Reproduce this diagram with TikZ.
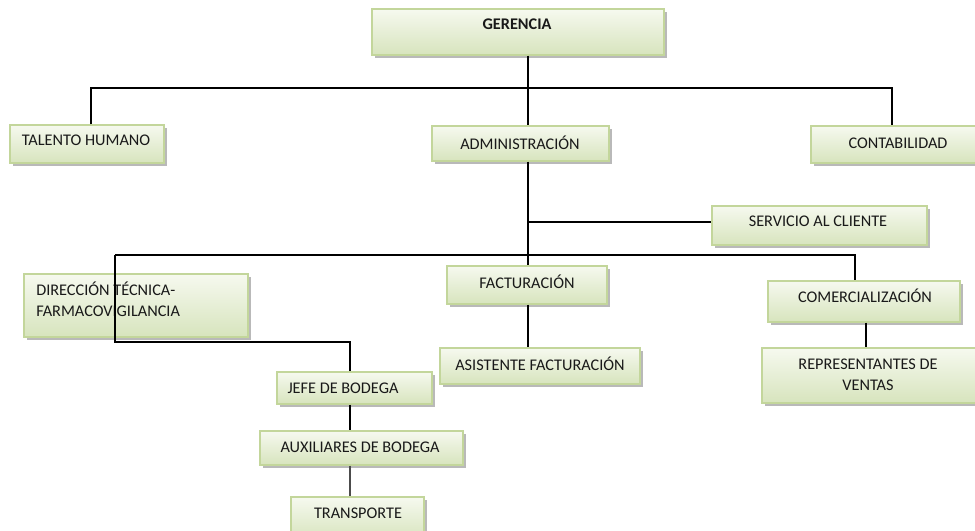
\documentclass[tikz,border=0pt]{standalone}
\usepackage{fontspec}
\setmainfont{Carlito}
\usetikzlibrary{shadows}
\definecolor{boxtop}{HTML}{F6F9EF}
\definecolor{boxbot}{HTML}{D7E4BD}
\definecolor{boxline}{HTML}{C3D69B}
\tikzset{
  box/.style={draw=boxline, line width=1pt, top color=boxtop, bottom color=boxbot, inner sep=0pt,
    drop shadow={shadow xshift=2pt, shadow yshift=-2pt, fill=black!50, opacity=0.55}},
  lbl/.style={font=\fontsize{12.2}{15.75}\selectfont, text=black!90, inner sep=0pt},
  conn/.style={line width=1.6pt, black},
  thinconn/.style={line width=0.8pt, black!70},
}
\newcommand\orgbox[5]{\node[box, minimum width={(#4-#2)*0.75pt}, minimum height={(#5-#3)*0.75pt}] (#1) at ({(#2+#4)/2},{(#3+#5)/2}) {};}
\begin{document}
\begin{tikzpicture}[x=0.75pt, y=-0.75pt]
\useasboundingbox (0,0) rectangle (975,531);
% boxes
\orgbox{ger}{372}{9}{664}{55}
\orgbox{tal}{10}{125}{164}{163}
\orgbox{adm}{432}{126}{609}{161}
\orgbox{con}{811}{126}{985}{163}
\orgbox{ser}{712}{206}{927}{245}
\orgbox{dir}{24}{274}{248}{337}
\orgbox{fac}{447}{266}{607}{304}
\orgbox{com}{768}{281}{960}{322}
\orgbox{asi}{440}{348}{640}{384}
\orgbox{rep}{762}{348}{985}{403}
\orgbox{jef}{277}{372}{432}{404}
\orgbox{aux}{260}{431}{463}{465}
\orgbox{tra}{291}{497}{424}{540}
% labels
\node[lbl] (gert) at (517,24) {\bfseries GERENCIA};
\node[lbl] (talt) at (86,140) {TALENTO HUMANO};
\node[lbl] (admt) at (520,143) {ADMINISTRACIÓN};
\node[lbl] (cont) at (898,143) {CONTABILIDAD};
\node[lbl] (sert) at (818,221) {SERVICIO AL CLIENTE};
\node[lbl, align=left, anchor=west] (dirt) at (36,299.5) {DIRECCIÓN TÉCNICA-\\FARMACOVIGILANCIA};
\node[lbl] (fact) at (527,282) {FACTURACIÓN};
\node[lbl] (comt) at (865,296) {COMERCIALIZACIÓN};
\node[lbl] (asit) at (540,364) {ASISTENTE FACTURACIÓN};
\node[lbl, align=center] (rept) at (868,374.5) {REPRESENTANTES DE\\VENTAS};
\node[lbl] (jeft) at (343,388) {JEFE DE BODEGA};
\node[lbl] (auxt) at (360,447) {AUXILIARES DE BODEGA};
\node[lbl] (trat) at (358,513) {TRANSPORTE};
% connector coordinates
\coordinate (j1) at (528,88);
\coordinate (tl) at (91,88);
\coordinate (cr) at (892,88);
\coordinate (j2) at (528,222);
\coordinate (l3) at (115,255);
\coordinate (r3) at (855,255);
\coordinate (dl) at (115,342);
\coordinate (dr) at (350,342);
\coordinate (cx) at (866,0);
% connectors
\draw[conn] (ger.south -| j1) -- (j1);
\draw[conn] (tal.north -| tl) -- (tl) -- (cr) -- (con.north -| cr);
\draw[conn] (j1) -- (adm.north -| j1);
\draw[conn] (adm.south -| j1) -- (fac.north -| j1);
\draw[conn] (j2) -- (ser.west |- j2);
\draw[conn] (l3) -- (r3) -- (com.north -| r3);
\draw[conn] (l3) -- (dl) -- (dr) -- (jef.north -| dr);
\draw[conn] (fac.south -| j1) -- (asi.north -| j1);
\draw[conn] (com.south -| cx) -- (rep.north -| cx);
\draw[conn] (jef.south -| dr) -- (aux.north -| dr);
\draw[thinconn] (aux.south -| dr) -- (tra.north -| dr);
\end{tikzpicture}
\end{document}
